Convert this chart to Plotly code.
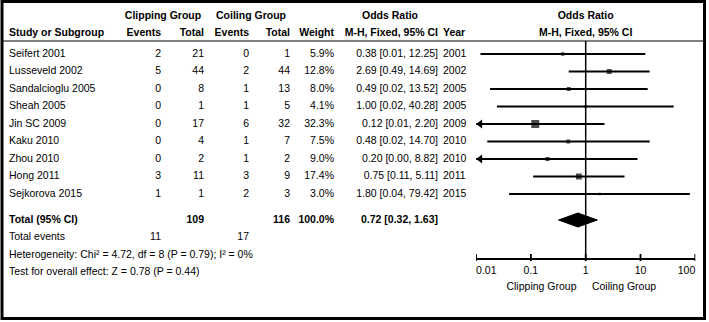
import plotly.graph_objects as go

# ---------------- data ----------------
studies = ["Seifert 2001", "Lusseveld 2002", "Sandalcioglu 2005", "Sheah 2005", "Jin SC 2009",
           "Kaku 2010", "Zhou 2010", "Hong 2011", "Sejkorova 2015"]
clip_events = [2, 5, 0, 0, 0, 0, 0, 3, 1]
clip_total = [21, 44, 8, 1, 17, 4, 2, 11, 1]
coil_events = [0, 2, 1, 1, 6, 1, 1, 3, 2]
coil_total = [1, 44, 13, 5, 32, 7, 2, 9, 3]
weight = [5.9, 12.8, 8.0, 4.1, 32.3, 7.5, 9.0, 17.4, 3.0]
odds_ratio = [0.38, 2.69, 0.49, 1.00, 0.12, 0.48, 0.20, 0.75, 1.80]
ci_low = [0.012, 0.49, 0.018, 0.024, 0.007, 0.016, 0.004, 0.11, 0.04]
ci_high = [12.25, 14.69, 13.52, 40.28, 2.20, 14.70, 8.82, 5.11, 79.42]
years = [2001, 2002, 2005, 2005, 2009, 2010, 2010, 2011, 2015]

total_clip, total_coil = 109, 116
events_clip, events_coil = 11, 17
pooled_or, pooled_low, pooled_high = 0.72, 0.32, 1.63
heterogeneity = "Heterogeneity: Chi² = 4.72, df = 8 (P = 0.79); I² = 0%"
overall = "Test for overall effect: Z = 0.78 (P = 0.44)"
tick_vals = [0.01, 0.1, 1, 10, 100]
tick_text = ["0.01", "0.1", "1", "10", "100"]
favours = ["Clipping Group", "Coiling Group"]

# ---------------- layout constants (pixels) ----------------
W, H = 709, 322
FONT = "Liberation Sans, Arial, sans-serif"
FS = 10.5
ROW0, DY = 54, 17.5
HDR1, HDR2, HLINE = 16, 33, 41
GAP_TOTAL = 26
AXIS_Y = 259
X_ONE, DEC = 585.7, 54.8
AX_LO, AX_HI = 0.01, 100

n = len(studies)
row_y = [ROW0 + i * DY for i in range(n)]
y_total = row_y[-1] + GAP_TOTAL
y_events = y_total + DY
y_het = y_events + DY
y_test = y_het + DY

C_STUDY, C_CE, C_CT, C_OE, C_OT, C_W, C_OR, C_YEAR = 9, 161, 204, 249, 290, 334, 438, 443

fig = go.Figure()


def txt(x, y, s, pos, bold=False, xa="x"):
    if not isinstance(x, list):
        x = [x] * len(y)
    t = [f"<b>{v}</b>" if bold else str(v) for v in s]
    fig.add_trace(go.Scatter(x=x, y=y, text=t, mode="text", textposition=pos, xaxis=xa, yaxis="y",
                             textfont=dict(family=FONT, size=FS, color="black"),
                             showlegend=False, hoverinfo="skip", cliponaxis=False))


# headers
txt(163, [HDR1], ["Clipping Group"], "middle center", True)
txt(251, [HDR1], ["Coiling Group"], "middle center", True)
txt(390, [HDR1], ["Odds Ratio"], "middle center", True)
txt(C_STUDY, [HDR2], ["Study or Subgroup"], "middle right", True)
txt(C_CE, [HDR2], ["Events"], "middle left", True)
txt(C_CT, [HDR2], ["Total"], "middle left", True)
txt(C_OE, [HDR2], ["Events"], "middle left", True)
txt(C_OT, [HDR2], ["Total"], "middle left", True)
txt(C_W, [HDR2], ["Weight"], "middle left", True)
txt(C_OR, [HDR2], ["M-H, Fixed, 95% CI"], "middle left", True)
txt(C_YEAR, [HDR2], ["Year"], "middle right", True)
txt(1, [HDR1, HDR2], ["Odds Ratio", "M-H, Fixed, 95% CI"], "middle center", True, xa="x2")

# study rows
txt(C_STUDY, row_y, studies, "middle right")
txt(C_CE, row_y, clip_events, "middle left")
txt(C_CT, row_y, clip_total, "middle left")
txt(C_OE, row_y, coil_events, "middle left")
txt(C_OT, row_y, coil_total, "middle left")
txt(C_W, row_y, [f"{w:.1f}%" for w in weight], "middle left")
txt(C_OR, row_y, [f"{o:.2f} [{l:.2f}, {h:.2f}]" for o, l, h in zip(odds_ratio, ci_low, ci_high)], "middle left")
txt(C_YEAR, row_y, years, "middle right")

# total rows
txt(C_STUDY, [y_total], ["Total (95% CI)"], "middle right", True)
txt(C_CT, [y_total], [total_clip], "middle left", True)
txt(C_OT, [y_total], [total_coil], "middle left", True)
txt(C_W, [y_total], [f"{sum(weight):.1f}%"], "middle left", True)
txt(C_OR, [y_total], [f"{pooled_or:.2f} [{pooled_low:.2f}, {pooled_high:.2f}]"], "middle left", True)
txt(C_STUDY, [y_events], ["Total events"], "middle right")
txt(C_CE, [y_events], [events_clip], "middle left")
txt(C_OE, [y_events], [events_coil], "middle left")
txt(C_STUDY, [y_het, y_test], [heterogeneity, overall], "middle right")

# forest plot: CI lines, squares, arrows
for yy, o, lo, hi, w in zip(row_y, odds_ratio, ci_low, ci_high, weight):
    fig.add_trace(go.Scatter(x=[max(lo, AX_LO), min(hi, AX_HI)], y=[yy, yy], mode="lines",
                             line=dict(color="black", width=2), xaxis="x2", yaxis="y",
                             showlegend=False, hoverinfo="skip"))
    if lo < AX_LO:
        fig.add_trace(go.Scatter(x=[AX_LO * 10 ** (4.0 / DEC)], y=[yy], mode="markers",
                                 marker=dict(symbol="triangle-left", size=8, color="black"),
                                 xaxis="x2", yaxis="y", showlegend=False, hoverinfo="skip"))
fig.add_trace(go.Scatter(x=odds_ratio, y=row_y, mode="markers",
                         marker=dict(symbol="square", color="black", line=dict(width=0),
                                     size=[max(2.4, 1.4 * w ** 0.5) for w in weight]),
                         xaxis="x2", yaxis="y", showlegend=False, hoverinfo="skip"))

# no-effect line
fig.add_trace(go.Scatter(x=[1, 1], y=[HLINE, AXIS_Y], mode="lines", line=dict(color="black", width=1.5),
                         xaxis="x2", yaxis="y", showlegend=False, hoverinfo="skip"))

# pooled diamond
DH = 7
fig.add_trace(go.Scatter(x=[pooled_low, pooled_or, pooled_high, pooled_or, pooled_low],
                         y=[y_total, y_total - DH, y_total, y_total + DH, y_total],
                         mode="lines", fill="toself", fillcolor="black", line=dict(color="black", width=1),
                         xaxis="x2", yaxis="y", showlegend=False, hoverinfo="skip"))

# tick marks crossing the axis line
tx, ty = [], []
for v in tick_vals:
    tx += [v, v, None]
    ty += [AXIS_Y - 5, AXIS_Y + 2, None]
fig.add_trace(go.Scatter(x=tx, y=ty, mode="lines", line=dict(color="black", width=1.8),
                         xaxis="x2", yaxis="y", showlegend=False, hoverinfo="skip", cliponaxis=False))

# axis tick labels (end labels pulled inward, as in the reference)
tick_pos = ["middle right"] + ["middle center"] * (len(tick_vals) - 2) + ["middle left"]
fig.add_trace(go.Scatter(x=tick_vals, y=[AXIS_Y + 12] * len(tick_vals), text=tick_text, mode="text",
                         textposition=tick_pos, textfont=dict(family=FONT, size=FS, color="black"),
                         xaxis="x2", yaxis="y", showlegend=False, hoverinfo="skip", cliponaxis=False))

# favours labels
txt([0.68], [AXIS_Y + 28], [favours[0]], "middle left", xa="x2")
txt([1.3], [AXIS_Y + 28], [favours[1]], "middle right", xa="x2")

fig.update_layout(
    width=W, height=H, autosize=False,
    margin=dict(l=0, r=0, t=0, b=0),
    paper_bgcolor="white", plot_bgcolor="rgba(0,0,0,0)",
    font=dict(family=FONT, size=FS, color="black"),
    xaxis=dict(range=[0, W], domain=[0, 1], visible=False, fixedrange=True),
    yaxis=dict(range=[H, 0], domain=[0, 1], visible=False, fixedrange=True),
    xaxis2=dict(type="log", range=[-2, 2],
                domain=[(X_ONE - 2 * DEC) / W, (X_ONE + 2 * DEC) / W],
                anchor="free", position=1 - AXIS_Y / H,
                showline=True, linecolor="black", linewidth=2,
                ticks="", showticklabels=False, showgrid=False, zeroline=False,
                fixedrange=True),
    shapes=[
        dict(type="rect", xref="paper", yref="paper", x0=2 / W, x1=704.5 / W, y0=1 - 318.5 / H, y1=1 - 1.5 / H,
             line=dict(color="black", width=3)),
        dict(type="line", xref="paper", yref="paper", x0=2 / W, x1=704.5 / W, y0=1 - HLINE / H, y1=1 - HLINE / H,
             line=dict(color="black", width=1)),
    ],
    showlegend=False,
)

fig.write_html("out.html", config={"displayModeBar": False, "staticPlot": True},
               post_script="document.body.style.margin='0';document.body.style.overflow='hidden';")
